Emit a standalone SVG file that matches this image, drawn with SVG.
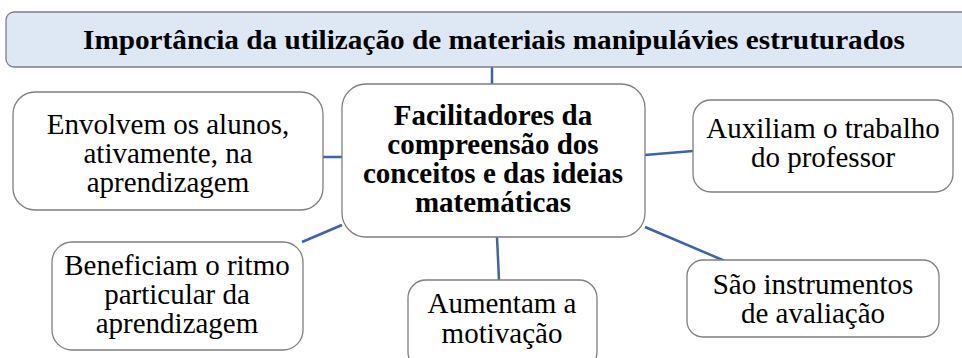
<svg xmlns="http://www.w3.org/2000/svg" width="962" height="358" viewBox="0 0 962 358">
<style>
.box{fill:#ffffff;stroke:#7f7f7f;stroke-width:1.3}
.title{fill:#dee8f4;stroke:#7f7f7f;stroke-width:1.3}
.t{font-family:"Liberation Serif","Times New Roman",serif;font-size:29px;fill:#000;text-anchor:middle}
.b{font-weight:bold}
.c{stroke:#3d63a8;stroke-width:2.5;fill:none}
</style>
<rect width="962" height="358" fill="#ffffff"/>
<g id="connectors">
<line class="c" x1="492" y1="67" x2="492" y2="85"/>
<line class="c" x1="323" y1="157" x2="342" y2="157"/>
<line class="c" x1="645" y1="155" x2="693" y2="151"/>
<line class="c" x1="342" y1="225" x2="302" y2="242"/>
<line class="c" x1="497" y1="237" x2="499" y2="280"/>
<line class="c" x1="645" y1="227" x2="725" y2="261"/>
</g>
<g id="title">
<rect class="title" x="6" y="12" width="970" height="55" rx="8"/>
<text class="t b" x="494" y="49" style="font-size:27px" textLength="822" lengthAdjust="spacingAndGlyphs">Importância da utilização de materiais manipulávies estruturados</text>
</g>
<g id="center">
<rect class="box" x="342" y="84" width="303" height="153" rx="24"/>
<text class="t b" x="493" y="125">Facilitadores da</text>
<text class="t b" x="493" y="154">compreensão dos</text>
<text class="t b" x="493" y="183">conceitos e das ideias</text>
<text class="t b" x="493" y="212">matemáticas</text>
</g>
<g id="envolvem">
<rect class="box" x="13" y="92" width="310" height="118" rx="22"/>
<text class="t" x="168" y="134">Envolvem os alunos,</text>
<text class="t" x="168" y="163">ativamente, na</text>
<text class="t" x="168" y="192">aprendizagem</text>
</g>
<g id="auxiliam">
<rect class="box" x="693" y="100" width="260" height="92" rx="18"/>
<text class="t" x="823" y="138">Auxiliam o trabalho</text>
<text class="t" x="823" y="167">do professor</text>
</g>
<g id="beneficiam">
<rect class="box" x="52" y="242" width="251" height="108" rx="20"/>
<text class="t" x="177" y="275">Beneficiam o ritmo</text>
<text class="t" x="177" y="304">particular da</text>
<text class="t" x="177" y="333">aprendizagem</text>
</g>
<g id="aumentam">
<rect class="box" x="408" y="280" width="189" height="90" rx="18"/>
<text class="t" x="502" y="313">Aumentam a</text>
<text class="t" x="502" y="343">motivação</text>
</g>
<g id="sao">
<rect class="box" x="687" y="260" width="252" height="77" rx="16"/>
<text class="t" x="813" y="294">São instrumentos</text>
<text class="t" x="813" y="323">de avaliação</text>
</g>
</svg>
